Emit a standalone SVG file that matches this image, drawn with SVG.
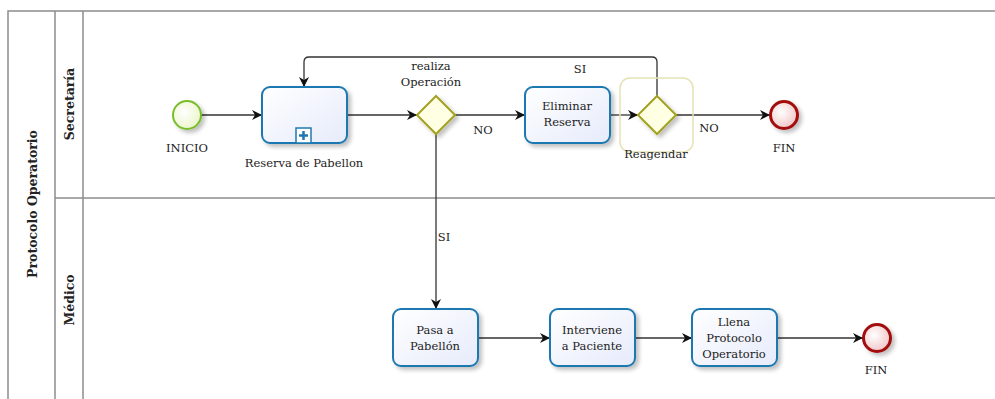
<svg xmlns="http://www.w3.org/2000/svg" width="995" height="399" viewBox="0 0 995 399">
<style>
.lane{fill:none;stroke:#8c8c8c;stroke-width:1.5}
.task{fill:url(#tg);stroke:#1f78b0;stroke-width:2}
.gw{fill:#ffffe3;stroke:#a3a123;stroke-width:2}
.st{fill:url(#sg);stroke:#79bd2c;stroke-width:2}
.en{fill:url(#eg);stroke:#a30f0f;stroke-width:3}
.c{fill:none;stroke:#333;stroke-width:1.3;marker-end:url(#ar)}
.t{font-family:"DejaVu Serif","Liberation Serif",serif;font-size:11.5px;fill:#222;text-anchor:middle}
.h{font-family:"DejaVu Serif","Liberation Serif",serif;font-size:12.5px;font-weight:bold;fill:#222;text-anchor:middle}
.sh{filter:url(#ds)}
</style>
<defs>
<linearGradient id="tg" x1="0" y1="0" x2="1" y2="1"><stop offset="0" stop-color="#ffffff"/><stop offset="1" stop-color="#e6ebfb"/></linearGradient>
<radialGradient id="sg" cx="0.4" cy="0.4" r="0.7"><stop offset="0" stop-color="#ffffff"/><stop offset="1" stop-color="#e9f5c4"/></radialGradient>
<radialGradient id="eg" cx="0.4" cy="0.4" r="0.7"><stop offset="0" stop-color="#ffffff"/><stop offset="1" stop-color="#f0c0c0"/></radialGradient>
<filter id="ds" x="-20%" y="-20%" width="150%" height="150%"><feGaussianBlur in="SourceAlpha" stdDeviation="2"/><feOffset dx="3" dy="3"/><feComponentTransfer><feFuncA type="linear" slope="0.25"/></feComponentTransfer><feMerge><feMergeNode/><feMergeNode in="SourceGraphic"/></feMerge></filter>
<marker id="ar" viewBox="0 0 10 10" refX="10" refY="5" markerWidth="10" markerHeight="10" markerUnits="userSpaceOnUse" orient="auto"><path d="M0,0 L10,5 L0,10 L3,5 Z" fill="#111"/></marker>
</defs>
<g id="pool">
<rect x="8" y="11" width="1000" height="400" class="lane"/>
<line x1="55" y1="11" x2="55" y2="399" class="lane"/>
<line x1="83" y1="11" x2="83" y2="399" class="lane"/>
<line x1="55" y1="198" x2="995" y2="198" class="lane"/>
<text class="h" transform="translate(37,204) rotate(-90)">Protocolo Operatorio</text>
<text class="h" transform="translate(74,104) rotate(-90)">Secretaría</text>
<text class="h" transform="translate(74,300) rotate(-90)">Médico</text>
</g>
<g id="connectors">
<path class="c" d="M201,115 H262"/>
<path class="c" d="M347,115 H417"/>
<path class="c" d="M455,115 H525"/>
<text class="t" x="483" y="134">NO</text>
<path class="c" d="M610,115 H638"/>
<path class="c" d="M676,115 H770"/>
<text class="t" x="709" y="132">NO</text>
<path class="c" d="M657,96 V62 Q657,57 652,57 H309 Q304,57 304,62 V87"/>
<text class="t" x="580" y="73">SI</text>
<path class="c" d="M436,134 V309"/>
<text class="t" x="444" y="241">SI</text>
<path class="c" d="M478,338 H550"/>
<path class="c" d="M635,338 H692"/>
<path class="c" d="M777,338 H863"/>
</g>
<g id="inicio">
<circle class="st sh" cx="187" cy="115" r="14"/>
<text class="t" x="187" y="152">INICIO</text>
</g>
<g id="reserva">
<rect class="task sh" x="262" y="87" width="85" height="56" rx="8"/>
<rect x="296" y="128" width="15" height="15" fill="#fff" stroke="#1f78b0" stroke-width="1.5"/>
<path d="M303.5,131 V140 M299,135.5 H308" stroke="#1f78b0" stroke-width="2.5"/>
<text class="t" x="304" y="167">Reserva de Pabellon</text>
</g>
<g id="gw-realiza">
<path class="gw sh" d="M436,96 L455,115 L436,134 L417,115 Z"/>
<text class="t" x="431" y="70">realiza</text>
<text class="t" x="431" y="86">Operación</text>
</g>
<g id="eliminar">
<rect class="task sh" x="525" y="87" width="85" height="56" rx="8"/>
<text class="t" x="567" y="110">Eliminar</text>
<text class="t" x="567" y="126">Reserva</text>
</g>
<g id="gw-reagendar">
<rect x="620" y="78" width="73" height="74" rx="10" fill="none" stroke="#e3e3b5" stroke-width="1.5"/>
<path class="gw sh" d="M657,96 L676,115 L657,134 L638,115 Z"/>
<text class="t" x="656" y="158">Reagendar</text>
</g>
<g id="fin1">
<circle class="en sh" cx="784" cy="115" r="13.5"/>
<text class="t" x="784" y="152">FIN</text>
</g>
<g id="pasa">
<rect class="task sh" x="393" y="309" width="85" height="57" rx="8"/>
<text class="t" x="435" y="334">Pasa a</text>
<text class="t" x="435" y="350">Pabellón</text>
</g>
<g id="interviene">
<rect class="task sh" x="550" y="309" width="85" height="57" rx="8"/>
<text class="t" x="592" y="334">Interviene</text>
<text class="t" x="592" y="350">a Paciente</text>
</g>
<g id="llena">
<rect class="task sh" x="692" y="309" width="85" height="57" rx="8"/>
<text class="t" x="734" y="326">Llena</text>
<text class="t" x="734" y="342">Protocolo</text>
<text class="t" x="734" y="358">Operatorio</text>
</g>
<g id="fin2">
<circle class="en sh" cx="877" cy="338" r="13.5"/>
<text class="t" x="876" y="374">FIN</text>
</g>
</svg>
